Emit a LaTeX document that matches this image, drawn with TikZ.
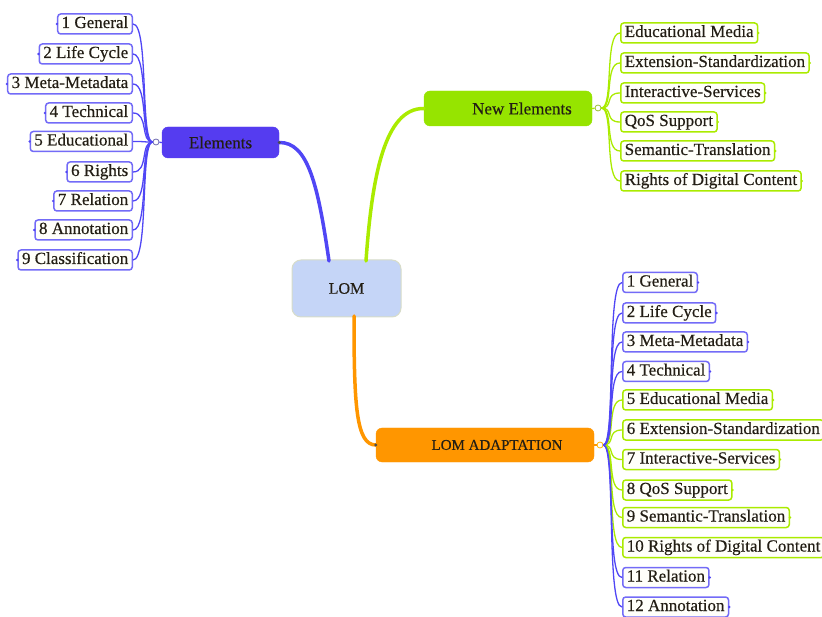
\documentclass[tikz,border=0pt]{standalone}
\usepackage{fontspec}
\setmainfont{Liberation Serif}[BoldFont=Liberation Serif, BoldFeatures={FakeBold=0.35}]
\definecolor{cblue}{RGB}{80,70,245}
\definecolor{cgreen}{RGB}{170,235,0}
\definecolor{elfill}{RGB}{85,60,240}
\definecolor{nefill}{RGB}{150,228,0}
\definecolor{lafill}{RGB}{255,150,0}
\definecolor{lomfill}{RGB}{197,213,247}
\definecolor{lomedge}{RGB}{215,220,200}
\definecolor{txt}{RGB}{35,30,20}
\definecolor{leaffill}{RGB}{255,255,250}
\tikzset{
  leaf/.style={draw, line width=1.5pt, fill=leaffill, rounded corners=3pt,
    font=\fontsize{17}{20}\selectfont\bfseries, text=txt, inner xsep=4pt, inner ysep=2pt,
    text height=12pt, text depth=4pt},
  leafB/.style={leaf, draw=cblue!80},
  leafG/.style={leaf, draw=cgreen},
  mainbox/.style={rounded corners=6pt, font=\fontsize{17}{20}\selectfont\bfseries, text=txt, inner sep=0pt},
  hub/.style={circle, draw, line width=0.8pt, fill=white, inner sep=0pt, minimum size=6pt},
  linkB/.style={draw=cblue, line width=1.3pt},
  linkG/.style={draw=cgreen, line width=1.3pt},
  thick link/.style={line width=3.5pt, line cap=round}
}
\begin{document}
\begin{tikzpicture}[x=1pt,y=-1pt]
\useasboundingbox (0,0) rectangle (822,617);

% central
\node[mainbox, fill=lomfill, draw=lomedge, line width=1pt, rounded corners=9pt,
  minimum width=109pt, minimum height=57pt, font=\fontsize{16}{20}\selectfont\bfseries] (lom) at (346.5,288.5) {LOM};

% main branches
\node[mainbox, fill=elfill, draw=elfill, minimum width=117pt, minimum height=31pt] (el) at (220.5,142.5) {Elements};
\node[mainbox, fill=nefill, draw=nefill, minimum width=168pt, minimum height=35pt] (ne) at (508,108.5) {\hspace*{28pt}New Elements};
\node[mainbox, fill=lafill, draw=lafill, minimum width=218pt, minimum height=34pt, font=\fontsize{15}{18}\selectfont\bfseries] (la) at (485,445) {\hspace*{24pt}LOM ADAPTATION};

\coordinate (lomB) at (329,261);
\coordinate (lomG) at (366,261);
\coordinate (lomO) at (354,316);

\draw[cblue, thick link] (lomB) .. controls (318,185) and (308,142) .. (el.east);
\draw[cgreen, thick link] (lomG) .. controls (372,175) and (385,108) .. (ne.west);
\draw[thick link, draw=lafill] (lomO) .. controls (354,405) and (356,445) .. (la.west);
\fill[black!70] (el.east) circle (1.6pt);
\fill[black!70] (la.west) circle (1.6pt);

% hubs
\node[hub, draw=cblue!40!gray] (eh) at (156,142) {};
\node[hub, draw=cgreen!60!gray] (nh) at (598,108) {};
\node[hub, draw=lafill!70!yellow] (lh) at (600,445) {};
\draw[linkB] (el.west) -- (eh);
\draw[linkG] (ne.east) -- (nh);
\draw[draw=lafill, line width=1.3pt] (la.east) -- (lh);

% left leaves
\node[leafB, anchor=east] (a1) at (133,24) {1 General};
\node[leafB, anchor=east] (a2) at (133,54) {2 Life Cycle};
\node[leafB, anchor=east] (a3) at (133,84) {3 Meta-Metadata};
\node[leafB, anchor=east] (a4) at (133,113) {4 Technical};
\node[leafB, anchor=east] (a5) at (133,141.5) {5 Educational};
\node[leafB, anchor=east] (a6) at (133,172) {6 Rights};
\node[leafB, anchor=east] (a7) at (133,201) {7 Relation};
\node[leafB, anchor=east] (a8) at (133,230) {8 Annotation};
\node[leafB, anchor=east] (a9) at (133,260) {9 Classification};
\foreach \i in {1,...,9} {
  \draw[linkB] (eh) .. controls +(-16,0) and +(16,0) .. (a\i.east);
  \fill[cblue] (a\i.west) circle (1.3pt);
}

% new elements leaves
\node[leafG, anchor=west] (b1) at (620,33) {Educational Media};
\node[leafG, anchor=west] (b2) at (620,63) {Extension-Standardization};
\node[leafG, anchor=west] (b3) at (620,93) {Interactive-Services};
\node[leafG, anchor=west] (b4) at (620,122) {QoS Support};
\node[leafG, anchor=west] (b5) at (620,151) {Semantic-Translation};
\node[leafG, anchor=west] (b6) at (620,181) {Rights of Digital Content};
\foreach \i in {1,...,6} {
  \draw[linkG] (nh) .. controls +(16,0) and +(-16,0) .. (b\i.west);
  \fill[cgreen] (b\i.east) circle (1.3pt);
}

% LOM adaptation leaves
\node[leafB, anchor=west] (c1) at (622,282.5) {1 General};
\node[leafB, anchor=west] (c2) at (622,313) {2 Life Cycle};
\node[leafB, anchor=west] (c3) at (622,342) {3 Meta-Metadata};
\node[leafB, anchor=west] (c4) at (622,371.5) {4 Technical};
\node[leafG, anchor=west] (c5) at (622,400) {5 Educational Media};
\node[leafG, anchor=west] (c6) at (622,430) {6 Extension-Standardization};
\node[leafG, anchor=west] (c7) at (622,459.5) {7 Interactive-Services};
\node[leafG, anchor=west] (c8) at (622,490) {8 QoS Support};
\node[leafG, anchor=west] (c9) at (622,517.5) {9 Semantic-Translation};
\node[leafG, anchor=west] (c10) at (622,547.5) {10 Rights of Digital Content};
\node[leafB, anchor=west] (c11) at (622,577.5) {11 Relation};
\node[leafB, anchor=west] (c12) at (622,607) {12 Annotation};
\foreach \i in {5,...,10} {
  \draw[linkG] (lh) .. controls +(16,0) and +(-16,0) .. (c\i.west);
  \fill[cgreen] (c\i.east) circle (1.3pt);
}
\foreach \i in {1,2,3,4,11,12} {
  \draw[linkB] (lh) .. controls +(16,0) and +(-16,0) .. (c\i.west);
  \fill[cblue] (c\i.east) circle (1.3pt);
}
\end{tikzpicture}
\end{document}
